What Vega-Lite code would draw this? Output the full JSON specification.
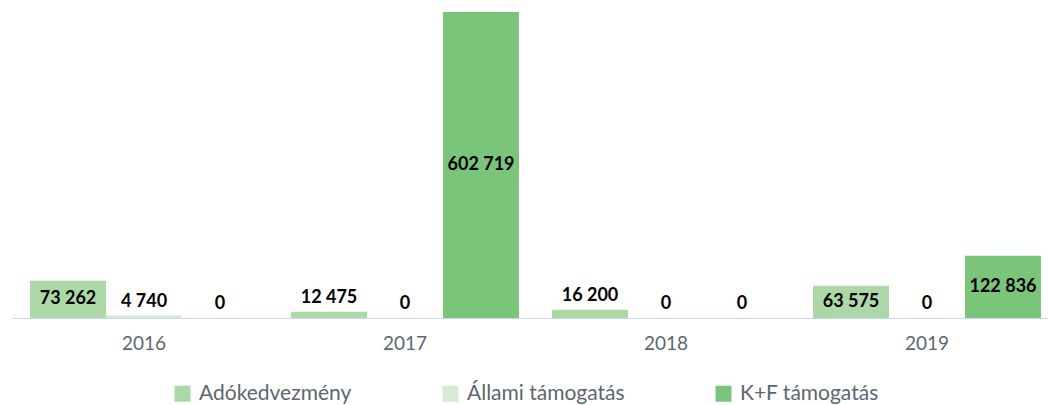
{
  "$schema": "https://vega.github.io/schema/vega-lite/v6.json",
  "width": 1047,
  "height": 306,
  "autosize": {"type": "none"},
  "padding": {"left": 12, "top": 12, "right": 0, "bottom": 87},
  "config": {
    "view": {"stroke": null},
    "font": "Lato",
    "locale": {"number": {"decimal": ",", "thousands": " ", "grouping": [3], "currency": ["", ""]}}
  },
  "data": {
    "values": [
      {"year": "2016", "series": "Adókedvezmény", "value": 73262},
      {"year": "2016", "series": "Állami támogatás", "value": 4740},
      {"year": "2016", "series": "K+F támogatás", "value": 0},
      {"year": "2017", "series": "Adókedvezmény", "value": 12475},
      {"year": "2017", "series": "Állami támogatás", "value": 0},
      {"year": "2017", "series": "K+F támogatás", "value": 602719},
      {"year": "2018", "series": "Adókedvezmény", "value": 16200},
      {"year": "2018", "series": "Állami támogatás", "value": 0},
      {"year": "2018", "series": "K+F támogatás", "value": 0},
      {"year": "2019", "series": "Adókedvezmény", "value": 63575},
      {"year": "2019", "series": "Állami támogatás", "value": 0},
      {"year": "2019", "series": "K+F támogatás", "value": 122836}
    ]
  },
  "encoding": {
    "x": {
      "field": "year",
      "type": "nominal",
      "scale": {"paddingInner": 0.1264, "paddingOuter": 0.069},
      "axis": {
        "title": null,
        "labelAngle": 0,
        "ticks": false,
        "grid": false,
        "domainColor": "#ccd6eb",
        "domainWidth": 1,
        "labelColor": "#5b6770",
        "labelFontSize": 19,
        "labelPadding": 16
      }
    },
    "xOffset": {
      "field": "series",
      "type": "nominal",
      "sort": ["Adókedvezmény", "Állami támogatás", "K+F támogatás"],
      "scale": {"paddingInner": 0, "paddingOuter": 0}
    },
    "y": {
      "field": "value",
      "type": "quantitative",
      "scale": {"domain": [0, 602719], "nice": false, "zero": true},
      "axis": null
    }
  },
  "layer": [
    {
      "mark": {"type": "bar"},
      "encoding": {
        "color": {
          "field": "series",
          "type": "nominal",
          "sort": ["Adókedvezmény", "Állami támogatás", "K+F támogatás"],
          "scale": {
            "domain": ["Adókedvezmény", "Állami támogatás", "K+F támogatás"],
            "range": ["#acd8a7", "#d6ebd3", "#7bc57b"]
          },
          "legend": {
            "title": null,
            "orient": "none",
            "legendX": 160,
            "legendY": 371,
            "direction": "horizontal",
            "columns": 3,
            "columnPadding": 88,
            "symbolType": "square",
            "symbolSize": 256,
            "symbolStrokeWidth": 0,
            "symbolOpacity": 1,
            "labelFontSize": 21,
            "labelColor": "#5b6770",
            "labelOffset": 6
          }
        }
      }
    },
    {
      "transform": [
        {"filter": "datum.value >= 50000"},
        {"calculate": "datum.value / 2", "as": "mid"}
      ],
      "mark": {"type": "text", "fontWeight": "bold", "fontSize": 18, "color": "#000000", "baseline": "middle"},
      "encoding": {
        "y": {"field": "mid", "type": "quantitative"},
        "text": {"field": "value", "type": "quantitative", "format": ",d"}
      }
    },
    {
      "transform": [{"filter": "datum.value < 50000"}],
      "mark": {"type": "text", "fontWeight": "bold", "fontSize": 18, "color": "#000000", "baseline": "bottom", "dy": -5},
      "encoding": {
        "text": {"field": "value", "type": "quantitative", "format": ",d"}
      }
    }
  ]
}
